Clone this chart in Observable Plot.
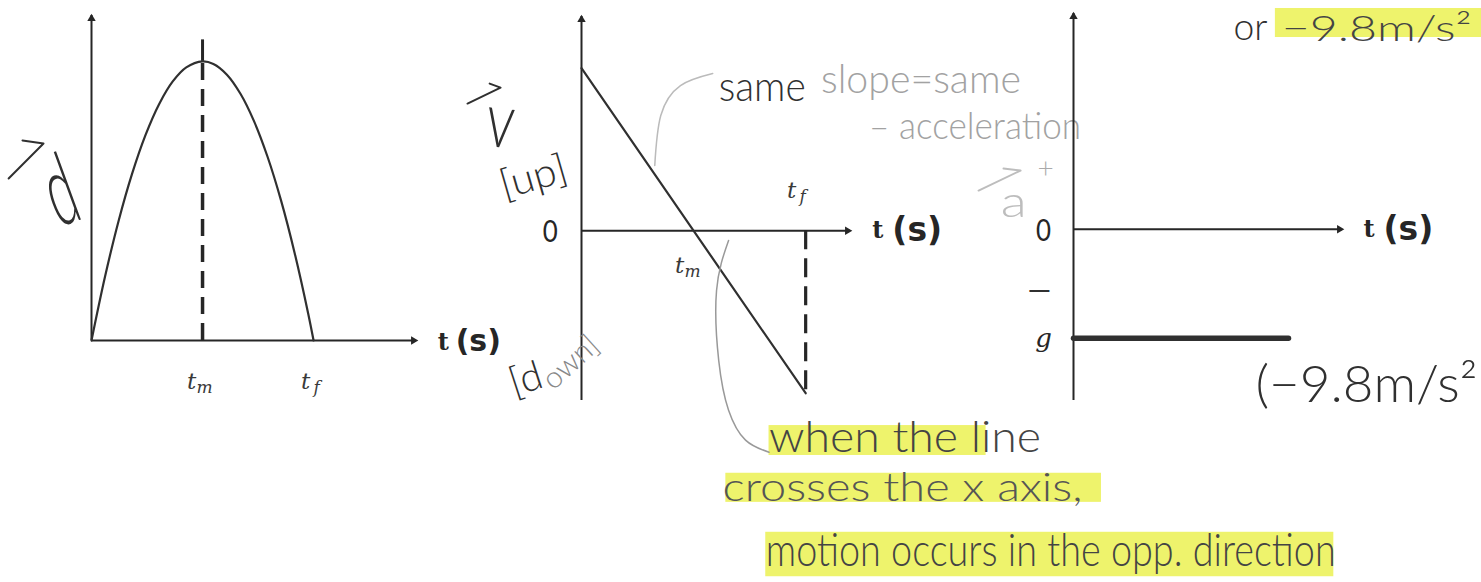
<!DOCTYPE html>
<html>
<head>
<meta charset="utf-8">
<script src="https://cdn.jsdelivr.net/npm/d3@7"></script>
<script src="https://cdn.jsdelivr.net/npm/@observablehq/plot@0.6"></script>
<style>
  html, body { margin: 0; padding: 0; background: #fff; }
  #page { position: relative; width: 1481px; height: 582px; overflow: hidden; background: #fff; }
  #page svg { position: absolute; left: 0; top: 0; }
</style>
</head>
<body>
<div id="page"></div>
<script>
// Ball thrown straight up: v0 = 20.1 m/s, g = 9.8 m/s²
const g = 9.8;
const tm = 2.05;           // time at maximum height
const tf = 4.1;            // time of landing

// displacement–time (parabola)
const times = [0, 0.25, 0.5, 0.75, 1.0, 1.25, 1.5, 1.75, 2.05, 2.25, 2.5, 2.75, 3.0, 3.25, 3.5, 3.75, 4.0, 4.1];
const displacement = [0, 4.72, 8.83, 12.32, 15.2, 17.47, 19.13, 20.17, 20.61, 20.42, 19.63, 18.22, 16.2, 13.57, 10.33, 6.47, 2.0, 0];

// velocity–time (straight line)
const velocityTimes = [0, 4.1];
const velocity = [20.1, -20.1];

// acceleration–time (constant)
const accelTimes = [0, 4.1];
const acceleration = [-9.8, -9.8];

// special instants on the time axis
const instantTimes = [tm, tf];
const instantNames = ["m", "f"];

const W = 1481, H = 582;
const INK = "#262626", PEN = "#303030", PENCIL = "#a2a2a2", HIGHLIGHT = "#eef36c";
const PRINT = "'DejaVu Sans', 'Liberation Sans', sans-serif";
const SERIF = "'DejaVu Serif', serif";
const HAND = "Lato, 'Open Sans', sans-serif";

const dTable = times.map((t, i) => ({t, d: displacement[i]}));
const vTable = velocityTimes.map((t, i) => ({t, v: velocity[i]}));
const aTable = accelTimes.map((t, i) => ({t, a: acceleration[i]}));
const peak = d3.max(displacement);
const vEnd = velocity[velocity.length - 1];
const txt = d => d;

// axes with an arrowhead on each positive end
function axes(xMax, yMin, yMax) {
  return [
    Plot.ruleY([0], {x1: 0, x2: xMax, stroke: INK, strokeWidth: 2}),
    Plot.dot([0], {x: xMax, y: 0, dx: -3, symbol: "triangle2", r: 4, rotate: 90, fill: INK}),
    Plot.ruleX([0], {y1: yMin, y2: yMax, stroke: INK, strokeWidth: 2}),
    Plot.dot([0], {x: 0, y: yMax, dy: 3, symbol: "triangle2", r: 4, fill: INK})
  ];
}

// "t (s)" axis title
function timeTitle(x, y, size = 33, gap = 20) {
  return [
    Plot.text(["t"], {x, y, text: txt, textAnchor: "start", fontSize: 24, fontWeight: "bold", fontFamily: SERIF, fill: INK}),
    Plot.text(["(s)"], {x, y, text: txt, textAnchor: "start", dx: gap, fontSize: size, fontWeight: "bold", fontFamily: PRINT, fill: INK})
  ];
}

// t with a subscript, placed at an instant on the time axis
function instant(name, y, dx, dy) {
  const t = instantTimes[instantNames.indexOf(name)];
  return [
    Plot.text([t], {x: txt, y, dx, dy, text: () => "t", fontSize: 23, fontStyle: "italic", fontFamily: SERIF, fill: "#3a3a3a"}),
    Plot.text([t], {x: txt, y, dx: dx + (name === "m" ? 13 : 11), dy: dy + 6, text: () => name, fontSize: 17, fontStyle: "italic", fontFamily: SERIF, fill: "#3a3a3a"})
  ];
}

// hand-drawn vector arrow over a symbol
const harpoon = (pts, stroke) => Plot.line(pts, {stroke, strokeWidth: 2, strokeLinecap: "round", strokeLinejoin: "round"});

// ---- displacement vs time ----
const chartD = Plot.plot({
  width: W, height: H,
  marginLeft: 91, marginRight: W - 416, marginTop: 15, marginBottom: H - 340,
  x: {domain: [0, 6], axis: null},
  y: {domain: [0, 24], axis: null},
  marks: [
    ...axes(6, 0, 24),
    Plot.ruleX([tm], {y1: 0, y2: peak, stroke: INK, strokeWidth: 3.5, strokeDasharray: "17,9"}),
    Plot.ruleX([tm], {y1: peak, y2: 22.2, stroke: INK, strokeWidth: 3}),
    Plot.line(dTable, {x: "t", y: "d", curve: "catmull-rom", stroke: PEN, strokeWidth: 2.2}),
    ...instant("m", 0, -11, 41),
    ...instant("f", 0, -8, 41),
    ...timeTitle(6.39, -0.1, 30, 18),
    Plot.text(["d"], {x: -0.57, y: 10.9, text: txt, fontSize: 100, fontWeight: 300, fontFamily: HAND, fill: PEN, rotate: -20}),
    harpoon([[-1.53, 11.96], [-0.886, 14.55], [-1.274, 14.77]], PEN)
  ]
});

// ---- velocity vs time ----
const chartV = Plot.plot({
  width: W, height: H,
  marginLeft: 581, marginRight: W - 850, marginTop: 16, marginBottom: H - 400,
  x: {domain: [0, 4.92], axis: null},
  y: {domain: [-21, 26.5], axis: null},
  marks: [
    // highlighter bands under the notes
    Plot.rect([0], {x1: 3.43, x2: 7.40, y1: -24.1, y2: -27.8, fill: HIGHLIGHT}),
    Plot.rect([0], {x1: 2.64, x2: 9.51, y1: -30.0, y2: -33.6, fill: HIGHLIGHT}),
    Plot.rect([0], {x1: 3.37, x2: 13.76, y1: -37.3, y2: -42.8, fill: HIGHLIGHT}),
    ...axes(4.92, -21, 26.5),
    Plot.ruleX([tf], {y1: 0, y2: vEnd, stroke: INK, strokeWidth: 3.2, strokeDasharray: "19,9"}),
    Plot.line(vTable, {x: "t", y: "v", stroke: PEN, strokeWidth: 2.2}),
    Plot.text([0], {x: -0.57, y: txt, dy: 2, text: () => "0", fontSize: 30, fontFamily: HAND, fill: INK}),
    ...timeTitle(5.32, 0),
    ...instant("f", 5.0, -14, 0),
    ...instant("m", -4.3, -14, 0),
    // hand-written labels on the vertical axis
    Plot.text(["v"], {x: -1.48, y: 13.4, text: txt, fontSize: 78, fontWeight: 300, fontFamily: HAND, fill: PEN, rotate: 6}),
    harpoon([[-2.085, 15.73], [-1.48, 17.7], [-1.68, 18.2]], PEN),
    Plot.text(["[up]"], {x: -0.88, y: 6.6, text: txt, fontSize: 40, fontWeight: 300, fontFamily: HAND, fill: PEN, rotate: -16}),
    Plot.text(["[d"], {x: -1.02, y: -18.4, text: txt, fontSize: 40, fontWeight: 300, fontFamily: HAND, fill: PEN, rotate: -18}),
    Plot.text(["own]"], {x: -0.2, y: -16.3, text: txt, fontSize: 30, fontWeight: 300, fontFamily: HAND, fill: "#888", rotate: -42}),
    // slope note and its connector
    Plot.line([[2.40, 19.45], [1.81, 17.96], [1.45, 14.25], [1.34, 8.07]], {curve: "natural", stroke: "#bbb", strokeWidth: 1.5}),
    Plot.text(["same"], {x: 2.51, y: 17.7, text: txt, textAnchor: "start", fontSize: 42, fontWeight: 300, fontFamily: HAND, fill: PEN}),
    Plot.text(["slope=same"], {x: 4.38, y: 18.6, text: txt, textAnchor: "start", fontSize: 40, fontWeight: 300, fontFamily: HAND, fill: PENCIL}),
    Plot.text(["– acceleration"], {x: 5.26, y: 12.9, text: txt, textAnchor: "start", fontSize: 38, fontWeight: 300, fontFamily: HAND, fill: PENCIL}),
    // crossing note and its connector
    Plot.line([[2.69, -1.21], [2.47, -7.40], [2.51, -16.06], [2.69, -22.2], [3.0, -25.9], [3.43, -27.4]], {curve: "natural", stroke: "#999", strokeWidth: 1.5}),
    Plot.text(["when the line"], {x: 3.43, y: -25.6, text: txt, textAnchor: "start", fontSize: 44, fontWeight: 300, fontFamily: HAND, fill: "#444"}),
    Plot.text(["crosses the x axis,"], {x: 2.58, y: -31.8, text: txt, textAnchor: "start", fontSize: 40, fontWeight: 300, fontFamily: HAND, fill: "#555"}),
    Plot.text(["motion occurs in the opp. direction"], {x: 3.37, y: -39.6, text: txt, textAnchor: "start", fontSize: 46, fontWeight: 300, fontFamily: HAND, fill: "#444"})
  ]
});

// ---- acceleration vs time ----
const chartA = Plot.plot({
  width: W, height: H,
  marginLeft: 1073, marginRight: W - 1342, marginTop: 13, marginBottom: H - 400,
  x: {domain: [0, 5.13], axis: null},
  y: {domain: [-15.4, 19.4], axis: null},
  marks: [
    Plot.rect([0], {x1: 3.85, x2: 7.8, y1: 19.85, y2: 17.24, fill: HIGHLIGHT}),
    ...axes(5.13, -15.4, 19.4),
    Plot.line(aTable, {x: "t", y: "a", stroke: PEN, strokeWidth: 5.5}),
    Plot.text([0], {x: -0.57, y: txt, dy: 2, text: () => "0", fontSize: 30, fontFamily: HAND, fill: INK}),
    Plot.text(["—"], {x: -0.65, y: -5.5, text: txt, fontSize: 30, fontFamily: HAND, fill: PEN}),
    Plot.text([-g], {x: -0.57, y: txt, text: () => "g", fontSize: 26, fontStyle: "italic", fontFamily: SERIF, fill: INK}),
    ...timeTitle(5.53, 0),
    Plot.text(["a"], {x: -1.14, y: 2.4, text: txt, fontSize: 44, fontWeight: 300, fontFamily: HAND, fill: "#bdbdbd"}),
    harpoon([[-1.81, 3.48], [-1.01, 5.28], [-1.335, 5.46]], "#bdbdbd"),
    Plot.text(["+"], {x: -0.53, y: 5.4, text: txt, fontSize: 28, fontWeight: 300, fontFamily: HAND, fill: "#aaa"}),
    Plot.text(["or"], {x: 3.05, y: 18.1, text: txt, textAnchor: "start", fontSize: 38, fontWeight: 300, fontFamily: HAND, fill: PEN}),
    Plot.text(["−9.8m/s²"], {x: 3.97, y: 18.0, text: txt, textAnchor: "start", fontSize: 36, fontWeight: 300, fontFamily: HAND, fill: "#444"}),
    Plot.text(["(−9.8m/s²"], {x: 3.47, y: -14.0, text: txt, textAnchor: "start", fontSize: 52, fontWeight: 300, fontFamily: HAND, fill: PEN})
  ]
});

const page = document.getElementById("page");
page.append(chartD, chartV, chartA);

// hand-written words are narrower or wider than the font: fit them to their written length
const writtenLength = new Map([
  ["d", 28], ["v", 28], ["0", 15], ["a", 26],
  ["same", 87], ["slope=same", 200], ["– acceleration", 212],
  ["when the line", 272], ["crosses the x axis,", 360], ["motion occurs in the opp. direction", 570],
  ["or", 34], ["−9.8m/s²", 190], ["(−9.8m/s²", 222], ["[up]", 68]
]);
for (const el of page.querySelectorAll("text")) {
  const len = writtenLength.get(el.textContent);
  if (len) {
    el.setAttribute("textLength", len);
    el.setAttribute("lengthAdjust", "spacingAndGlyphs");
  }
}
</script>
</body>
</html>
